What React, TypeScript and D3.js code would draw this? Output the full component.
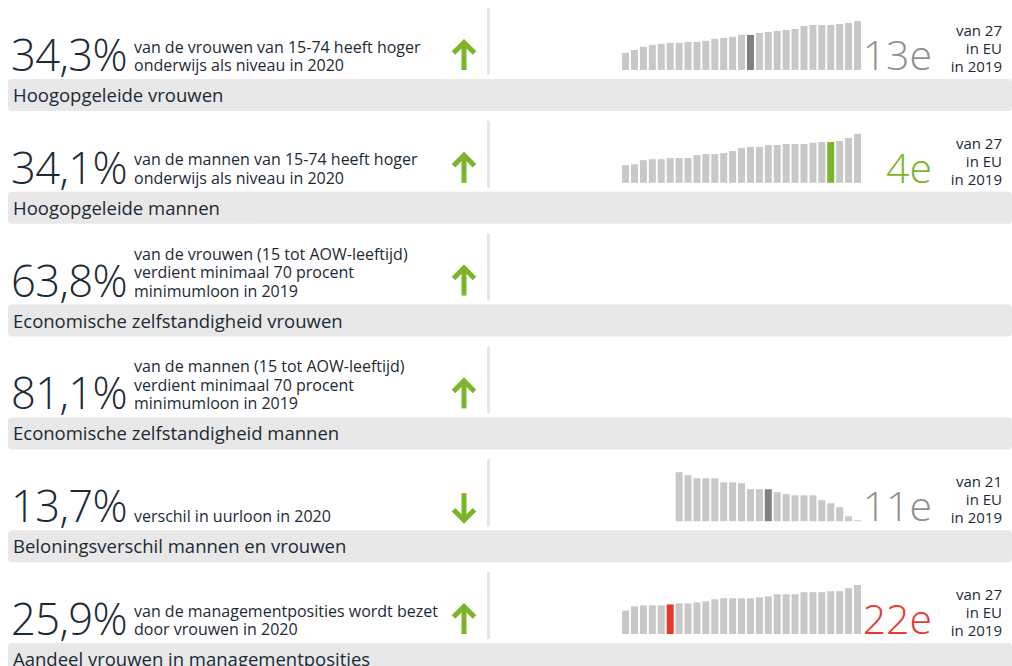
import React from "react";
import * as d3 from "d3";

// ---- data ----
const headlineValues = ["34,3%", "34,1%", "63,8%", "81,1%", "13,7%", "25,9%"];
const descriptions = [
  ["van de vrouwen van 15-74 heeft hoger", "onderwijs als niveau in 2020"],
  ["van de mannen van 15-74 heeft hoger", "onderwijs als niveau in 2020"],
  ["van de vrouwen (15 tot AOW-leeftijd)", "verdient minimaal 70 procent", "minimumloon in 2019"],
  ["van de mannen (15 tot AOW-leeftijd)", "verdient minimaal 70 procent", "minimumloon in 2019"],
  ["verschil in uurloon in 2020"],
  ["van de managementposities wordt bezet", "door vrouwen in 2020"],
];
const labels = [
  "Hoogopgeleide vrouwen",
  "Hoogopgeleide mannen",
  "Economische zelfstandigheid vrouwen",
  "Economische zelfstandigheid mannen",
  "Beloningsverschil mannen en vrouwen",
  "Aandeel vrouwen in managementposities",
];
const trends = ["up", "up", "up", "up", "down", "up"];

// EU comparison series (percent), in the order shown
const womenHigherEduEU = [16.8, 19.7, 22.7, 24.6, 25.6, 26.5, 26.5, 27.5, 27.5, 28.5, 30.4, 31.4, 32.4, 34.3, 34.3, 36.2, 37.2, 38.2, 39.2, 40.1, 43.0, 44.0, 44.0, 44.0, 45.0, 46.0, 47.9];
const menHigherEduEU = [14.7, 15.5, 18.9, 19.7, 19.7, 20.6, 20.6, 20.6, 23.1, 24.0, 24.0, 24.8, 26.5, 29.0, 29.9, 29.9, 31.6, 31.6, 32.4, 32.4, 32.4, 33.3, 34.1, 34.1, 34.9, 37.5, 40.9];
const payGapEU = [21.0, 19.7, 18.4, 18.4, 18.4, 16.7, 16.7, 16.3, 13.7, 13.7, 13.7, 12.4, 11.6, 11.1, 11.1, 11.1, 9.0, 7.7, 6.0, 2.1, 0.4];
const managementEU = [20.5, 24.1, 25.0, 25.0, 25.0, 25.9, 26.8, 26.8, 27.7, 28.6, 30.4, 31.3, 31.3, 31.3, 31.3, 32.2, 33.0, 34.8, 34.8, 34.8, 36.6, 36.6, 36.6, 37.5, 37.5, 40.2, 42.9];

const euSeries = [womenHigherEduEU, menHigherEduEU, null, null, payGapEU, managementEU];
const nlIndex = [14, 23, -1, -1, 10, 5];
const rankLabels = ["13e", "4e", "", "", "11e", "22e"];
const euCountLabels = ["van 27", "van 27", "", "", "van 21", "van 27"];
const highlightColors = ["#808080", "#7ab52a", "", "", "#808080", "#e63a2e"];
const rankColors = ["#8f8f8f", "#7ab52a", "", "", "#8f8f8f", "#e63a2e"];

const TEXT = "#1b2a35";
const GREEN = "#7ab52a";
const FONT = "'Open Sans', 'Noto Sans', sans-serif";

const W = 1012;
const H = 666;
const PERIOD = 112.8;

function Arrow({ dir }: { dir: string }) {
  const cx = 464;
  if (dir === "up") {
    return (
      <g stroke={GREEN} strokeWidth={5} fill="none">
        <line x1={cx} y1={43} x2={cx} y2={70} />
        <polyline points={`${cx - 10.5},${53} ${cx},${42.5} ${cx + 10.5},${53}`} strokeLinejoin="miter" />
      </g>
    );
  }
  return (
    <g stroke={GREEN} strokeWidth={5} fill="none">
      <line x1={cx} y1={42} x2={cx} y2={69} />
      <polyline points={`${cx - 10.5},${58.5} ${cx},${69} ${cx + 10.5},${58.5}`} strokeLinejoin="miter" />
    </g>
  );
}

function MiniBars({ values, hi, color }: { values: number[]; hi: number; color: string }) {
  const right = 861;
  const step = 8.92;
  const bw = 7;
  const n = values.length;
  const left = right - (n - 1) * step - bw;
  const x = d3
    .scaleBand<number>()
    .domain(d3.range(n))
    .range([left, right])
    .paddingInner((step - bw) / step)
    .paddingOuter(0);
  const y = d3.scaleLinear().domain([0, d3.max(values) as number]).range([70, 21]);
  return (
    <g>
      {values.map((v, i) => (
        <rect
          key={i}
          x={x(i)}
          y={y(v)}
          width={x.bandwidth()}
          height={70 - y(v)}
          fill={i === hi ? color : "#c8c8c8"}
        />
      ))}
    </g>
  );
}

export default function App() {
  return (
    <svg
      width={W}
      height={H}
      style={{ position: "absolute", left: 0, top: 0, background: "#fff" }}
      fontFamily={FONT}
    >
      {labels.map((label, k) => {
        const ty = k * PERIOD;
        const desc = descriptions[k];
        const series = euSeries[k];
        return (
          <g key={k} transform={`translate(0,${ty})`}>
            <text x={11} y={71} fontSize={43.5} fontWeight={300} fill={TEXT} letterSpacing={-0.6}>
              {headlineValues[k]}
            </text>
            {desc.map((line, j) => (
              <text key={j} x={134} y={71 - (desc.length - 1 - j) * 18.5} fontSize={16} fill={TEXT}>
                {line}
              </text>
            ))}
            <Arrow dir={trends[k]} />
            <rect x={487} y={8} width={3} height={67} fill="#e6e6e6" />
            {series && (
              <g>
                <MiniBars values={series} hi={nlIndex[k]} color={highlightColors[k]} />
                <text x={932} y={70} textAnchor="end" fontSize={41} fontWeight={300} fill={rankColors[k]}>
                  {rankLabels[k]}
                </text>
                <g fontSize={15} fill={TEXT} textAnchor="end">
                  <text x={1002} y={36}>{euCountLabels[k]}</text>
                  <text x={1002} y={54}>in EU</text>
                  <text x={1002} y={72}>in 2019</text>
                </g>
              </g>
            )}
            <rect x={8} y={79} width={1004} height={32} rx={4} fill="#e8e8e8" />
            <text x={13} y={102} fontSize={18.5} fill={TEXT}>
              {label}
            </text>
          </g>
        );
      })}
    </svg>
  );
}
